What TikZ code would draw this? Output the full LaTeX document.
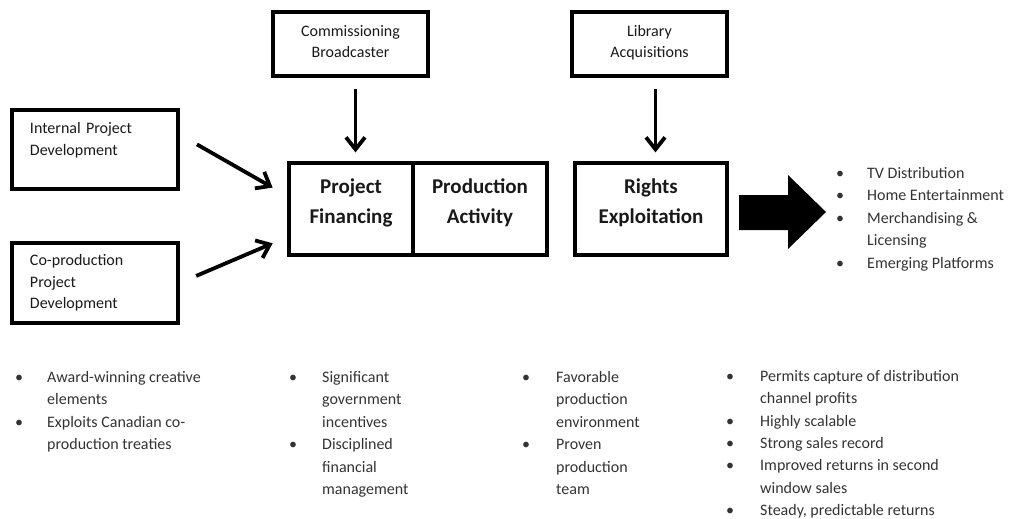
\documentclass[tikz,border=0pt]{standalone}
\usepackage{fontspec}
\setmainfont{Carlito}
\usetikzlibrary{arrows.meta}

\tikzset{
  box/.style={draw, line width=3.2pt, inner sep=0pt, align=center,
    font=\fontsize{16}{21.5}\selectfont, text=black!90},
  topbox/.style={box, minimum width=155pt, minimum height=64pt,
    text height=35.5pt, text depth=7.5pt},
  bigbox/.style={box, font=\fontsize{21}{30}\selectfont\bfseries,
    minimum height=92pt, text height=45pt, text depth=17pt},
  arr/.style={line width=3.8pt, -{Straight Barb[length=12pt,width=19pt]}},
  note/.style={anchor=base west, inner sep=0pt, text=black!80,
    font=\fontsize{16}{22.5}\selectfont},
}

\begin{document}
\begin{tikzpicture}[x=1pt,y=-1pt]
\useasboundingbox (0,0) rectangle (1010,519);

% inputs
\node[topbox] (cb) at (350.5,44) {Commissioning\\Broadcaster};
\node[topbox] (la) at (649.5,44) {Library\\Acquisitions};
\node[box, text width=130pt, inner xsep=18pt, minimum height=79pt, align=left] (ipd) at (95,149.5) {Internal Project\\Development\\~};
\node[box, text width=130pt, inner xsep=18pt, minimum height=80pt, align=left] (cpd) at (95,283) {Co-production\\Project\\Development};

% main chain
\node[bigbox, minimum width=124pt] (pf) at (351,209) {Project\\Financing};
\node[bigbox, minimum width=134pt] (pa) at (480,209) {Production\\Activity};
\node[bigbox, minimum width=152pt] (re) at (651,209) {Rights\\Exploitation};

\draw[arr, shorten <=11pt, shorten >=9pt] ([xshift=5pt]cb.south) -- ([xshift=5pt]cb.south |- pf.north);
\draw[arr, shorten <=11pt, shorten >=9pt] ([xshift=6pt]la.south) -- ([xshift=6pt]la.south |- re.north);
\draw[arr, shorten <=20pt, shorten >=17pt] ([yshift=15pt]ipd.east) -- ([yshift=13pt]pf.west);
\draw[arr, shorten <=18pt, shorten >=16pt] (cpd.east) -- ([yshift=-28pt]pf.west);

% big output arrow
\fill (739,195) -- (788,195) -- (788,175) -- (826,212) -- (788,249) -- (788,230) -- (739,230) -- cycle;

% outlets
\node[note] (outlets) at (836,178) {\begin{tabular}[t]{@{}p{31pt}@{}l@{}}
\textbullet & TV Distribution\\
\textbullet & Home Entertainment\\
\textbullet & Merchandising \&\\
 & Licensing\\
\textbullet & Emerging Platforms
\end{tabular}};

% strengths under each stage
\node[note] (dev) at (15,382) {\begin{tabular}[t]{@{}p{32pt}@{}l@{}}
\textbullet & Award-winning creative\\
 & elements\\
\textbullet & Exploits Canadian co-\\
 & production treaties
\end{tabular}};
\node[note] (fin) at (289,382) {\begin{tabular}[t]{@{}p{33pt}@{}l@{}}
\textbullet & Significant\\
 & government\\
 & incentives\\
\textbullet & Disciplined\\
 & financial\\
 & management
\end{tabular}};
\node[note] (prod) at (522,382) {\begin{tabular}[t]{@{}p{34pt}@{}l@{}}
\textbullet & Favorable\\
 & production\\
 & environment\\
\textbullet & Proven\\
 & production\\
 & team
\end{tabular}};
\node[note, font=\fontsize{16}{22.3}\selectfont] (rights) at (726,381.5) {\begin{tabular}[t]{@{}p{34pt}@{}l@{}}
\textbullet & Permits capture of distribution\\
 & channel profits\\
\textbullet & Highly scalable\\
\textbullet & Strong sales record\\
\textbullet & Improved returns in second\\
 & window sales\\
\textbullet & Steady, predictable returns
\end{tabular}};
\end{tikzpicture}
\end{document}
